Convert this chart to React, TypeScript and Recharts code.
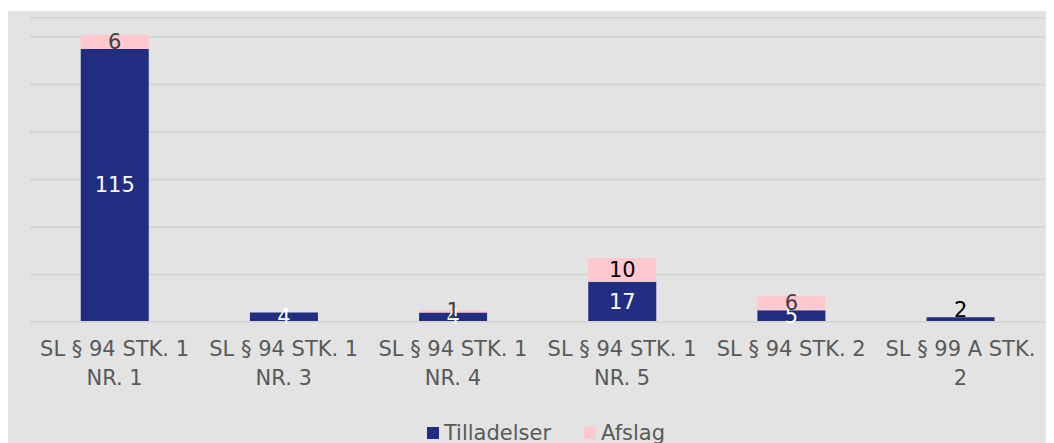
import React from 'react';
import { BarChart, Bar, XAxis, YAxis, CartesianGrid, Legend, LabelList } from 'recharts';

const categories = [
  'SL § 94 STK. 1\nNR. 1',
  'SL § 94 STK. 1\nNR. 3',
  'SL § 94 STK. 1\nNR. 4',
  'SL § 94 STK. 1\nNR. 5',
  'SL § 94 STK. 2',
  'SL § 99 A STK.\n2',
];
const tilladelser = [115, 4, 4, 17, 5, 2];
const afslag = [6, 0, 1, 10, 6, 0];
const yTicks = [0, 20, 40, 60, 80, 100, 120];
const seriesNames = ['Tilladelser', 'Afslag'];

const data = categories.map((c, i) => ({ name: c, tilladelser: tilladelser[i], afslag: afslag[i] }));

const NAVY = '#212d80';
const PINK = '#ffc7ce';
const FONT = '"DejaVu Sans", Verdana, sans-serif';
const AXIS_TEXT = '#595959';

const Tick = (props: any) => {
  const { x, y, payload } = props;
  const lines = String(payload.value).split('\n');
  return (
    <text x={x} y={y} textAnchor="middle" fill={AXIS_TEXT} fontSize={21} fontFamily={FONT}>
      {lines.map((l, i) => (
        <tspan key={i} x={x} dy={i === 0 ? 26 : 29}>
          {l}
        </tspan>
      ))}
    </text>
  );
};

const TillLabel = (props: any) => {
  const { x, y, width, height, value, index } = props;
  if (!value) return null;
  const last = index === categories.length - 1;
  if (last) {
    return (
      <text x={x + width / 2} y={y - 7} textAnchor="middle" dominantBaseline="central" fill="#000" fontSize={21} fontFamily={FONT}>
        {value}
      </text>
    );
  }
  return (
    <text x={x + width / 2} y={y + height / 2} textAnchor="middle" dominantBaseline="central" fill="#fff" fontSize={21} fontFamily={FONT}>
      {value}
    </text>
  );
};

const AfslagLabel = (props: any) => {
  const { x, y, width, height, value } = props;
  if (!value) return null;
  const fill = value >= 10 ? '#000' : '#404040';
  return (
    <text x={x + width / 2} y={y + height / 2} textAnchor="middle" dominantBaseline="central" fill={fill} fontSize={21} fontFamily={FONT}>
      {value}
    </text>
  );
};

const LegendContent = () => (
  <div style={{ display: 'flex', justifyContent: 'center', fontFamily: FONT, fontSize: 21, color: AXIS_TEXT, paddingLeft: 17 }}>
    {seriesNames.map((n, i) => (
      <div key={n} style={{ display: 'flex', alignItems: 'center', marginRight: i === 0 ? 33 : 0 }}>
        <span style={{ display: 'inline-block', width: 12, height: 12, background: i === 0 ? NAVY : PINK, marginRight: 5 }} />
        <span>{n}</span>
      </div>
    ))}
  </div>
);

export default function App() {
  return (
    <div style={{ paddingTop: 3 }}>
      <style>{`body{overflow:hidden}`}</style>
      <div style={{ width: 1046, height: 440, background: '#e3e3e3' }}>
        <BarChart
          width={1046}
          height={440}
          data={data}
          margin={{ top: 7, right: 9, left: 22, bottom: 4 }}
          barCategoryGap="30%"
        >
          <CartesianGrid horizontal vertical={false} stroke="#d6d6d6" strokeWidth={2} />
          <YAxis hide domain={[0, 128]} ticks={yTicks} allowDataOverflow />
          <XAxis
            dataKey="name"
            tickLine={false}
            axisLine={{ stroke: '#d6d6d6', strokeWidth: 2 }}
            tick={<Tick />}
            interval={0}
            height={99}
          />
          <Legend content={<LegendContent />} verticalAlign="bottom" height={26} />
          <Bar dataKey="tilladelser" stackId="a" fill={NAVY} isAnimationActive={false} name={seriesNames[0]}>
            <LabelList dataKey="tilladelser" content={<TillLabel />} />
          </Bar>
          <Bar dataKey="afslag" stackId="a" fill={PINK} isAnimationActive={false} name={seriesNames[1]}>
            <LabelList dataKey="afslag" content={<AfslagLabel />} />
          </Bar>
        </BarChart>
      </div>
    </div>
  );
}
